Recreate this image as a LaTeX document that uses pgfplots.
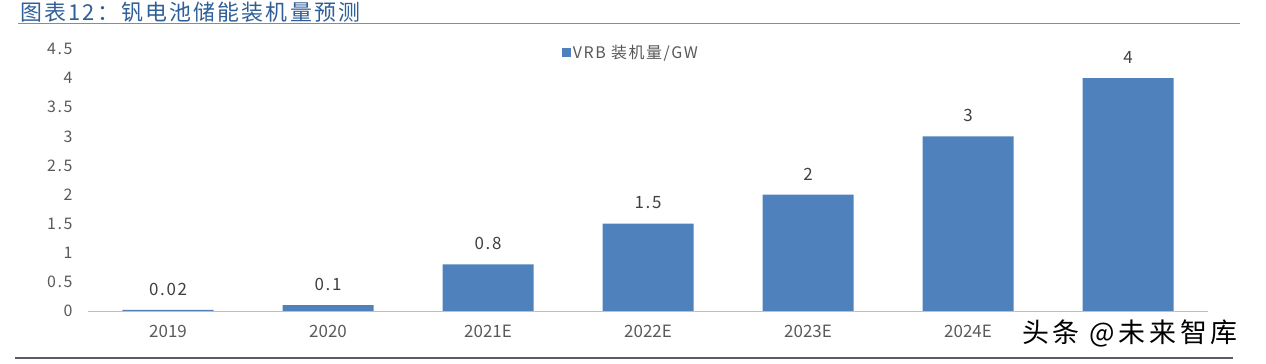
\documentclass[border=0pt]{standalone}
\usepackage{pgfplots}
\pgfplotsset{compat=1.18}
\usepackage{fontspec}
\setmainfont{Noto Sans CJK SC}
\newfontfamily\spacedfont[LetterSpace=10]{Noto Sans CJK SC}
\newfontfamily\wmfont[LetterSpace=14]{Noto Sans CJK SC}
\definecolor{barblue}{HTML}{4F81BD}
\definecolor{titleblue}{HTML}{2F5F98}
\definecolor{ticktext}{HTML}{595959}
\definecolor{valtext}{HTML}{404040}
\definecolor{botline}{HTML}{5A5A6E}
\begin{document}
\begin{tikzpicture}
\path (0bp,0bp) rectangle (1266bp,364bp);
\node[anchor=west, text=titleblue, font=\spacedfont\fontsize{22}{24}\selectfont, inner sep=0] at (20bp,352bp) {图表12：钒电池储能装机量预测};
\draw[black!45, line width=0.8bp] (18bp,341bp) -- (1240bp,341bp);
\draw[botline, line width=2.2bp] (15bp,6bp) -- (1233bp,6bp);
\begin{axis}[
  at={(88bp,53bp)}, anchor=south west,
  width=1120bp, height=262bp, scale only axis,
  xmin=-0.5, xmax=6.5, ymin=0, ymax=4.5,
  ybar, bar width=91bp,
  xtick=data,
  xticklabels={2019,2020,2021E,2022E,2023E,2024E,{}},
  ytick={0,0.5,1,1.5,2,2.5,3,3.5,4,4.5},
  yticklabels={0,0.5,1,1.5,2,2.5,3,3.5,4,4.5},
  axis x line=bottom, axis y line=left,
  y axis line style={draw=none},
  x axis line style={black!25, line width=1bp, -},
  major tick length=0,
  tick label style={font=\fontsize{16}{18}\selectfont, text=ticktext},
  xticklabel style={yshift=-11bp, font=\fontsize{17}{19}\selectfont},
  yticklabel style={xshift=-12bp, font=\spacedfont\fontsize{16}{18}\selectfont},
  /pgf/number format/assume math mode=true,
  /pgf/number format/fixed,
  /pgf/number format/precision=2,
  nodes near coords,
  nodes near coords style={font=\spacedfont\fontsize{17}{19}\selectfont, text=valtext, yshift=11bp},
  legend style={at={(0.423,0.987)}, anchor=west, draw=none, fill=none, font=\spacedfont\fontsize{16}{18}\selectfont, text=ticktext, inner sep=0pt},
  legend image code/.code={\fill[barblue] (0bp,-4.5bp) rectangle (9bp,4.5bp);},
]
\addplot[fill=barblue, draw=none] coordinates {(0,0.02) (1,0.1) (2,0.8) (3,1.5) (4,2) (5,3) (6,4)};
\addlegendentry{VRB 装机量/GW}
\end{axis}
\node[anchor=west, font=\wmfont\fontsize{27}{29}\selectfont, text=black, inner sep=0] at (1022bp,31bp) {头条 @未来智库};
\end{tikzpicture}
\end{document}
